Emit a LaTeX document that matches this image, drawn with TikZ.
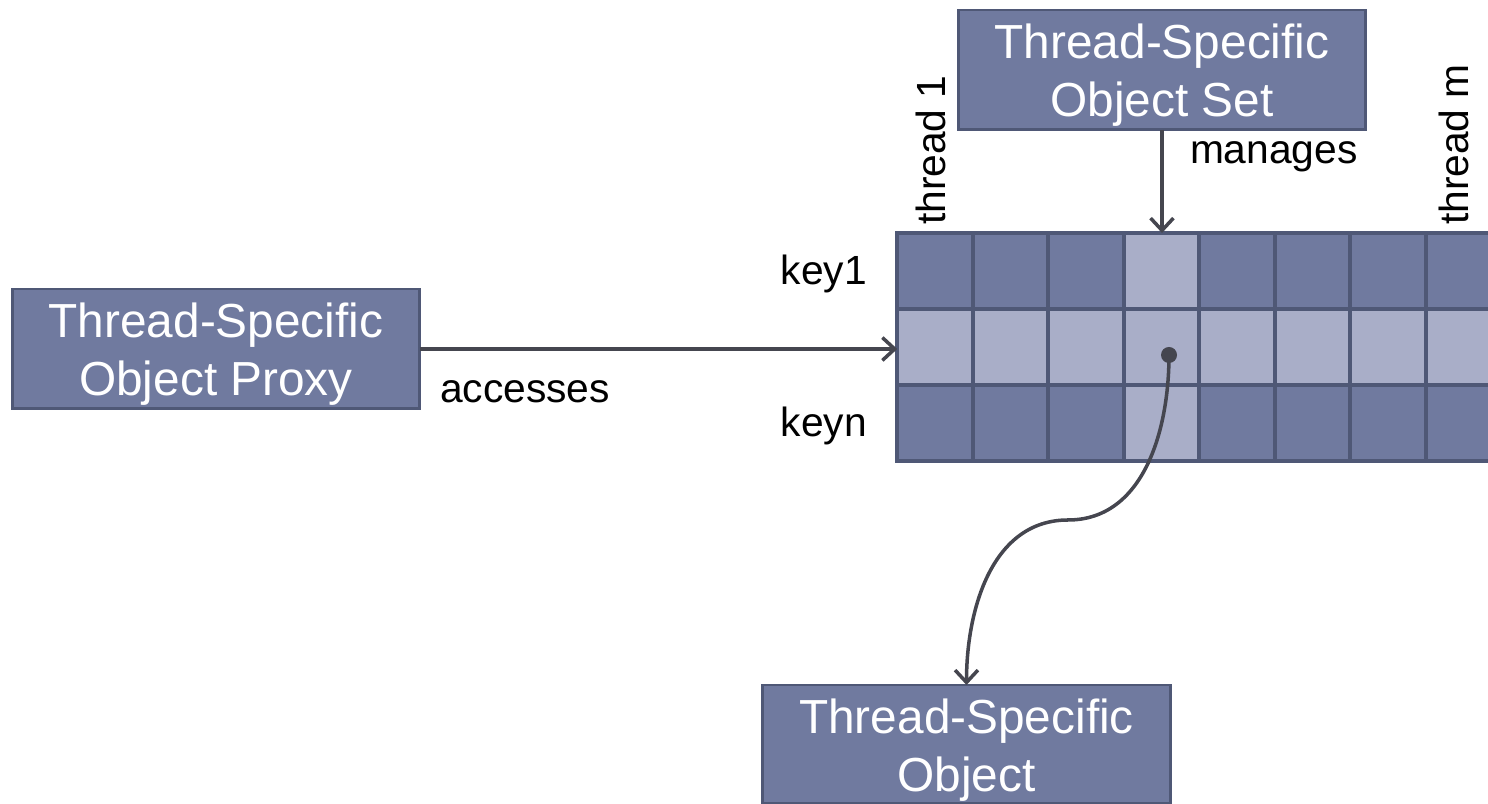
\documentclass[tikz,border=0pt]{standalone}
\usepackage{fontspec}
\setmainfont{Liberation Sans}
\usepackage{tikz}
\usetikzlibrary{arrows.meta}
\definecolor{boxblue}{HTML}{707A9F}
\definecolor{celllite}{HTML}{A9AEC8}
\definecolor{edgeblue}{HTML}{4F5876}
\definecolor{arrgray}{HTML}{45464F}
\newcommand{\toplift}{\rule{0pt}{25.7pt}}
\begin{document}
\begin{tikzpicture}[x=0.02cm,y=0.02cm]
\tikzstyle{every node}+=[inner sep=0pt,outer sep=0pt]
\tikzstyle{tsbox}=[draw=edgeblue,fill=boxblue,line width=1.7pt,minimum width=8.16cm,minimum height=2.4cm,
  text=white,align=center,font=\fontsize{27.2}{33}\selectfont]
\tikzstyle{dk}=[draw=edgeblue,fill=boxblue,line width=2.3pt,minimum width=1.51cm,minimum height=1.52cm]
\tikzstyle{lt}=[dk,fill=celllite]
\tikzstyle{lbl}=[font=\fontsize{23.2}{28}\selectfont]
\tikzstyle{arr}=[draw=arrgray,line width=2pt,-{Straight Barb[length=7pt,width=13pt]}]
\useasboundingbox (0,0) rectangle (1488,804);
% boxes
\node [tsbox] (proxy) at (216,455) {\toplift Thread-Specific\\Object Proxy};
\node [tsbox] (set) at (1162,734) {\toplift Thread-Specific\\Object Set};
\node [tsbox,minimum height=2.38cm] (obj) at (966.5,59.5) {\toplift Thread-Specific\\Object};
% key1 row
\node [dk] (c-1-1) at (935,533) {};
\node [dk] (c-1-2) at (1010.5,533) {};
\node [dk] (c-1-3) at (1086,533) {};
\node [lt] (c-1-4) at (1161.5,533) {};
\node [dk] (c-1-5) at (1237,533) {};
\node [dk] (c-1-6) at (1312.5,533) {};
\node [dk] (c-1-7) at (1388,533) {};
\node [dk] (c-1-8) at (1463.5,533) {};
% middle row
\node [lt] (c-2-1) at (935,457) {};
\node [lt] (c-2-2) at (1010.5,457) {};
\node [lt] (c-2-3) at (1086,457) {};
\node [lt] (c-2-4) at (1161.5,457) {};
\node [lt] (c-2-5) at (1237,457) {};
\node [lt] (c-2-6) at (1312.5,457) {};
\node [lt] (c-2-7) at (1388,457) {};
\node [lt] (c-2-8) at (1463.5,457) {};
% keyn row
\node [dk] (c-3-1) at (935,381) {};
\node [dk] (c-3-2) at (1010.5,381) {};
\node [dk] (c-3-3) at (1086,381) {};
\node [lt] (c-3-4) at (1161.5,381) {};
\node [dk] (c-3-5) at (1237,381) {};
\node [dk] (c-3-6) at (1312.5,381) {};
\node [dk] (c-3-7) at (1388,381) {};
\node [dk] (c-3-8) at (1463.5,381) {};
% labels
\node [lbl,anchor=base east] (key1) at (867,519) {key1};
\node [lbl,anchor=base east] (keyn) at (867,367) {keyn};
\node [lbl,anchor=base west,rotate=90] (th1) at (945,579) {thread 1};
\node [lbl,anchor=base west,rotate=90] (thm) at (1468,579) {thread m};
\node [lbl,anchor=base west] (acc) at (440,401) {accesses};
\node [lbl,anchor=base west] (mng) at (1190,640) {manages};
% connectors
\coordinate (dot) at (1169,449);
\coordinate (bend) at (1068,284);
\draw [arr] (proxy.east) -- (proxy.east -| c-2-1.west);
\draw [arr] (set.south) -- (set.south |- c-1-4.north);
\fill [arrgray] (dot) circle (8);
\draw [arr] (dot) to[out=-90,in=0] (bend) to[out=180,in=90] (obj.north);
\end{tikzpicture}
\end{document}
